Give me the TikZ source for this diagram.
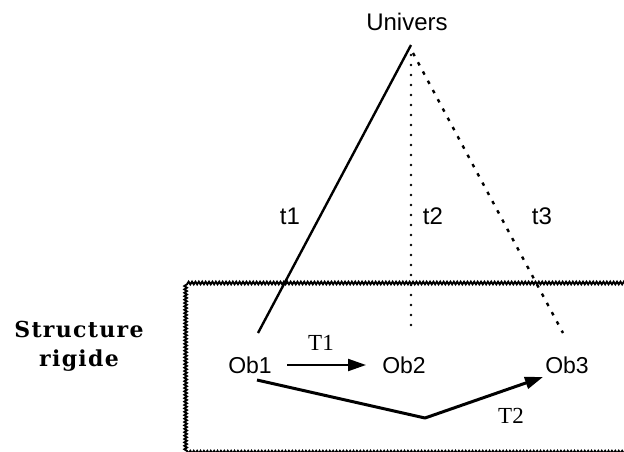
\documentclass[tikz,border=0pt]{standalone}
\usepackage{fontspec}
\setmainfont{Liberation Serif}
\setsansfont{Liberation Sans}
\newfontfamily\srfont[LetterSpace=6]{DejaVu Serif}
\usetikzlibrary{arrows.meta,decorations.pathmorphing,calc}
\tikzset{
  sanslab/.style={font=\sffamily\fontsize{24}{26}\selectfont, inner sep=0pt},
  seriflab/.style={font=\fontsize{23}{26}\selectfont, inner sep=0pt},
  objlab/.style={font=\sffamily\fontsize{23}{26}\selectfont, inner sep=2pt},
  solidln/.style={line width=2.4pt},
  dotln/.style={line width=2.6pt, line cap=round, dash pattern=on 0pt off 10pt},
  dashln/.style={line width=2.4pt, dash pattern=on 3.5pt off 7pt},
  arr/.style={line width=2.2pt, -{Triangle[length=18pt,width=12pt]}},
  wavy/.style={line width=1.9pt, decorate, decoration={snake, amplitude=1.3pt, segment length=3.4pt}}
}
\begin{document}
\begin{tikzpicture}[x=1pt,y=-1pt]
\useasboundingbox (0,0) rectangle (624,451);
% box
\coordinate (b1) at (630,283);
\coordinate (b2) at (187,283);
\coordinate (b3) at (187,448);
\coordinate (b4) at (630,448);
\draw[wavy] (b1) -- (b2) -- (b3) -- (b4);
% nodes
\node[sanslab] (univ) at (407,22) {Univers};
\coordinate (apex) at (411,45);
\coordinate (apexa) at (411,55);
\coordinate (apexb) at (413,53);
\coordinate (e1) at (258,333);
\coordinate (e2) at (411,330);
\coordinate (e3) at (563,333);
\node[objlab] (ob1) at (250,365) {Ob1};
\node[objlab] (ob2) at (404,365) {Ob2};
\node[objlab] (ob3) at (567,365) {Ob3};
\node[sanslab] (t1) at (290,216) {t1};
\node[sanslab] (t2) at (433,216) {t2};
\node[sanslab] (t3) at (542,216) {t3};
\node[seriflab] (T1) at (321,343) {T1};
\node[seriflab] (T2) at (511,416) {T2};
\node[font=\srfont\bfseries\fontsize{22}{29}\selectfont, align=center, inner sep=0pt] (sr) at (79,346) {Structure\\rigide};
% connectors
\draw[solidln] (apex) -- (e1);
\draw[dotln] (apexa) -- (e2);
\draw[dashln] (apexb) -- (e3);
\coordinate (s1) at (287,365);
\coordinate (s2) at (366,365);
\draw[arr] (s1) -- (s2);
\coordinate (u1) at (257,380);
\coordinate (v) at (425,418);
\coordinate (u2) at (543,377);
\draw[arr, line width=3pt, line join=round] (u1) -- (v) -- (u2);
\end{tikzpicture}
\end{document}
